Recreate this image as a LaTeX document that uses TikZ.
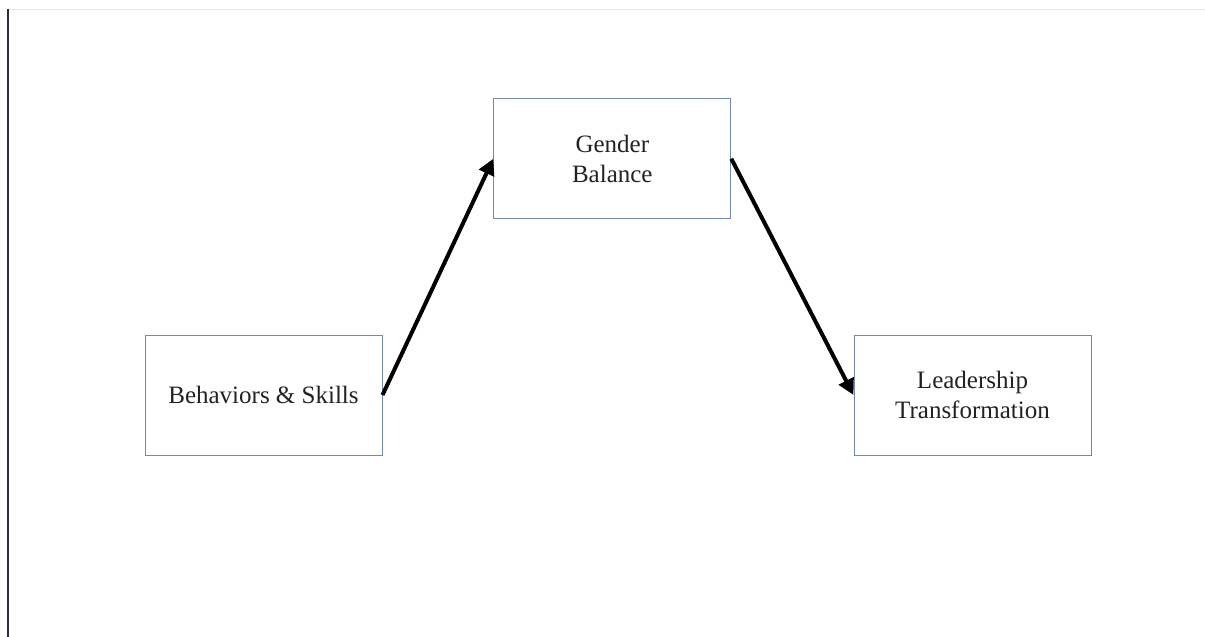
\documentclass[tikz,border=0pt]{standalone}
\usepackage{fontspec}
\setmainfont{Liberation Serif}
\usetikzlibrary{arrows.meta}

\tikzset{
  box/.style={draw=boxline,line width=0.5pt,minimum width=118.5pt,minimum height=60pt,
    align=center,text=textgray,font=\fontsize{12.5pt}{15pt}\selectfont},
  link/.style={->,line width=2pt,black}
}
\definecolor{boxline}{HTML}{7088B2}
\definecolor{textgray}{HTML}{222222}
\definecolor{edgeline}{HTML}{2B2D48}

\begin{document}
\begin{tikzpicture}[>={Triangle[length=8pt,width=8pt]},x=0.5pt,y=-0.5pt]
\useasboundingbox (0,0) rectangle (1205,637);
\draw[gray!20,line width=0.5pt] (7.5,9) -- (1205,9);
\draw[edgeline,line width=1pt] (7.5,9) -- (7.5,637);

\node[box] (skills) at (263.5,395) {Behaviors \& Skills};
\node[box] (gender) at (612.3,158.7) {Gender\\Balance};
\node[box] (leader) at (972.5,395) {Leadership\\Transformation};

\draw[link] (skills.east) -- (gender.west);
\draw[link] (gender.east) -- (leader.west);

\end{tikzpicture}
\end{document}
